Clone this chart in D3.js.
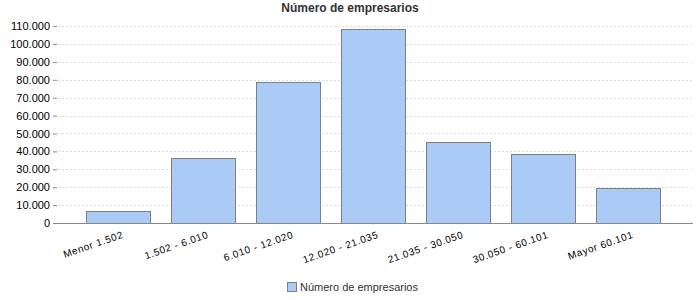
<!DOCTYPE html>
<html>
<head>
<meta charset="utf-8">
<script src="https://cdn.jsdelivr.net/npm/d3@7"></script>
<style>
body { margin: 0; background: #fff; }
svg { display: block; }
text { font-family: "Liberation Sans", Arial, sans-serif; }
</style>
</head>
<body>
<svg id="chart" width="700" height="300"></svg>
<script>
const categories = ["Menor 1.502", "1.502 - 6.010", "6.010 - 12.020", "12.020 - 21.035", "21.035 - 30.050", "30.050 - 60.101", "Mayor 60.101"];
const values = [6500, 36100, 78800, 108200, 45400, 38400, 19400];
const yTicks = [0, 10000, 20000, 30000, 40000, 50000, 60000, 70000, 80000, 90000, 100000, 110000];
const seriesName = "Número de empresarios";
const title = "Número de empresarios";

const svg = d3.select("#chart");
const plotLeft = 57, plotRight = 693, plotTop = 15, plotBottom = 223;

const y = d3.scaleLinear().domain([0, 116200]).range([plotBottom, plotTop]);
const x = d3.scaleBand().domain(categories).range([75.5, 670.5]).paddingInner(0.247).paddingOuter(0.1235);

const fmt = v => v === 0 ? "0" : d3.format(",")(v).replace(/,/g, ".");

// title
svg.append("text").attr("x", 350).attr("y", 12).attr("text-anchor", "middle")
  .attr("font-size", 12).attr("font-weight", "bold").attr("fill", "#333").text(title);

// grid
svg.append("g").selectAll("line").data(yTicks.filter(d => d > 0)).join("line")
  .attr("x1", plotLeft + 1).attr("x2", plotRight)
  .attr("y1", d => Math.round(y(d)) + 0.5).attr("y2", d => Math.round(y(d)) + 0.5)
  .attr("stroke", "#dcdcdc").attr("stroke-dasharray", "2,2");

// y axis
const yAxis = svg.append("g").attr("transform", `translate(${plotLeft},0)`)
  .call(d3.axisLeft(y).tickValues(yTicks).tickFormat(fmt).tickSize(4).tickPadding(3));
yAxis.select(".domain").remove();
yAxis.selectAll(".tick line").attr("stroke", "#888");
yAxis.selectAll(".tick text").attr("font-size", 11).attr("fill", "#000")
  .attr("font-family", "'Liberation Sans', Arial, sans-serif");

// bars
svg.append("g").selectAll("rect").data(values).join("rect")
  .attr("x", (d, i) => Math.round(x(categories[i])) + 0.5)
  .attr("y", d => Math.round(y(d)) + 0.5)
  .attr("width", Math.round(x.bandwidth()))
  .attr("height", d => plotBottom - Math.round(y(d)))
  .attr("fill", "#a9cbf5").attr("stroke", "#7f7f7f").attr("stroke-width", 1);

// x axis
const xAxis = svg.append("g").attr("transform", `translate(0,${plotBottom + 0.5})`)
  .call(d3.axisBottom(x).tickSize(0).tickPadding(0));
xAxis.select(".domain").attr("d", `M${plotLeft},0H${plotRight}`).attr("stroke", "#888");
xAxis.selectAll(".tick text")
  .attr("font-size", 10).attr("fill", "#000").attr("text-anchor", "end")
  .attr("font-family", "'Liberation Sans', Arial, sans-serif")
  .attr("letter-spacing", "0.6px")
  .attr("dy", null)
  .attr("transform", "translate(6,14) rotate(-19)");

// legend
const lg = svg.append("g").attr("transform", "translate(287,282)");
lg.append("rect").attr("x", 0.5).attr("y", 0.5).attr("width", 9).attr("height", 9)
  .attr("fill", "#a9cbf5").attr("stroke", "#7f7f7f");
lg.append("text").attr("x", 13).attr("y", 9).attr("font-size", 11).attr("fill", "#333").text(seriesName);
</script>
</body>
</html>
